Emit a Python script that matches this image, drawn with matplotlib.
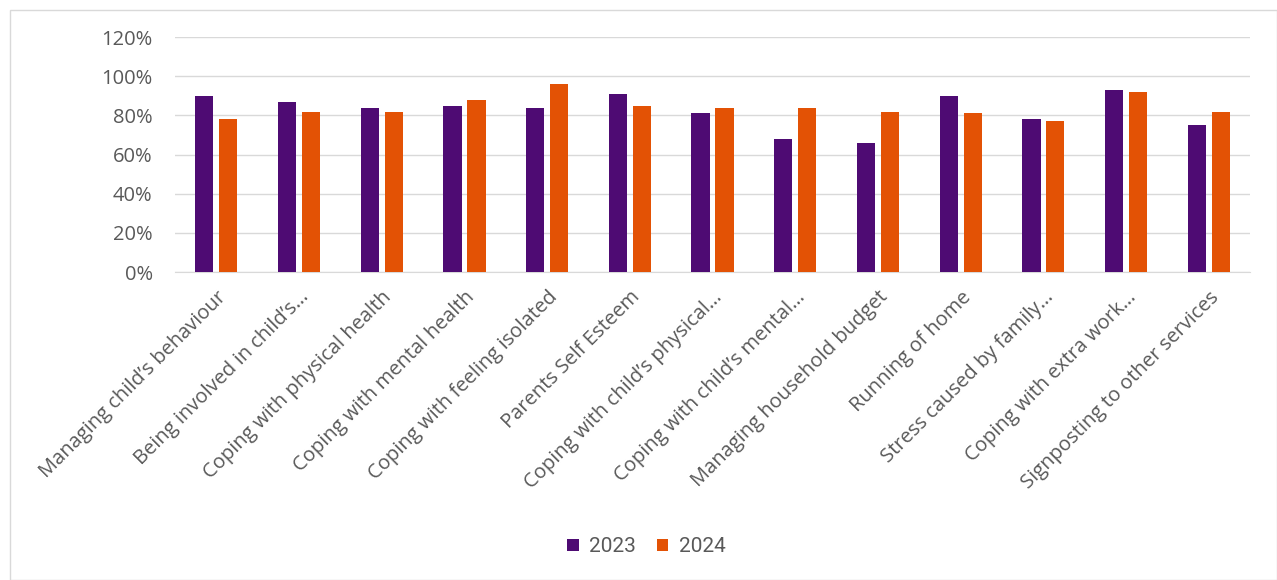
import matplotlib.pyplot as plt
import numpy as np
from matplotlib.patches import Rectangle
from matplotlib.ticker import PercentFormatter

categories = ['Managing child\u2019s behaviour', 'Being involved in child\u2019s\u2026',
              'Coping with physical health', 'Coping with mental health',
              'Coping with feeling isolated', 'Parents Self Esteem',
              'Coping with child\u2019s physical\u2026', 'Coping with child\u2019s mental\u2026',
              'Managing household budget', 'Running of home',
              'Stress caused by family\u2026', 'Coping with extra work\u2026',
              'Signposting to other services']
y2023 = [90, 87, 84, 85, 84, 91, 81, 68, 66, 90, 78, 93, 75]
y2024 = [78, 82, 82, 88, 96, 85, 84, 84, 82, 81, 77, 92, 82]

purple = '#4E0B73'
orange = '#E35205'
grey = '#595959'

plt.rcParams['font.family'] = ['Open Sans', 'DejaVu Sans']

fig = plt.figure(figsize=(12.77, 5.8), dpi=100)
ax = fig.add_axes([0.137, 0.531, 0.842, 0.405])

x = np.arange(len(categories))
w = 0.22
ax.bar(x - 0.145, y2023, w, color=purple, label='2023', zorder=3)
ax.bar(x + 0.145, y2024, w, color=orange, label='2024', zorder=3)

ax.set_xlim(-0.5, len(categories) - 0.5)
ax.set_ylim(0, 120)
ax.set_yticks(range(0, 121, 20))
ax.yaxis.set_major_formatter(PercentFormatter(decimals=0))
ax.grid(axis='y', color='#d9d9d9', linewidth=1, zorder=0)
for s in ['top', 'right', 'left']:
    ax.spines[s].set_visible(False)
ax.spines['bottom'].set_color('#d9d9d9')
ax.tick_params(axis='both', length=0, colors=grey, labelsize=14.5)
ax.tick_params(axis='y', pad=16)
ax.tick_params(axis='x', pad=11)
ax.set_xticks(x)
ax.set_xticklabels(categories, rotation=45, ha='right', rotation_mode='anchor')

fig.legend(loc='center', bbox_to_anchor=(0.506, 0.057), ncol=2, frameon=False,
           handlelength=0.55, handleheight=0.55, handletextpad=0.5, columnspacing=1.0,
           labelcolor=grey, prop={'family': 'Roboto', 'size': 15})

fig.patches.append(Rectangle((0.008, 0.0), 0.992, 0.983, transform=fig.transFigure,
                             fill=False, edgecolor='#d9d9d9', linewidth=1))

fig.savefig('out.png', dpi=100)
